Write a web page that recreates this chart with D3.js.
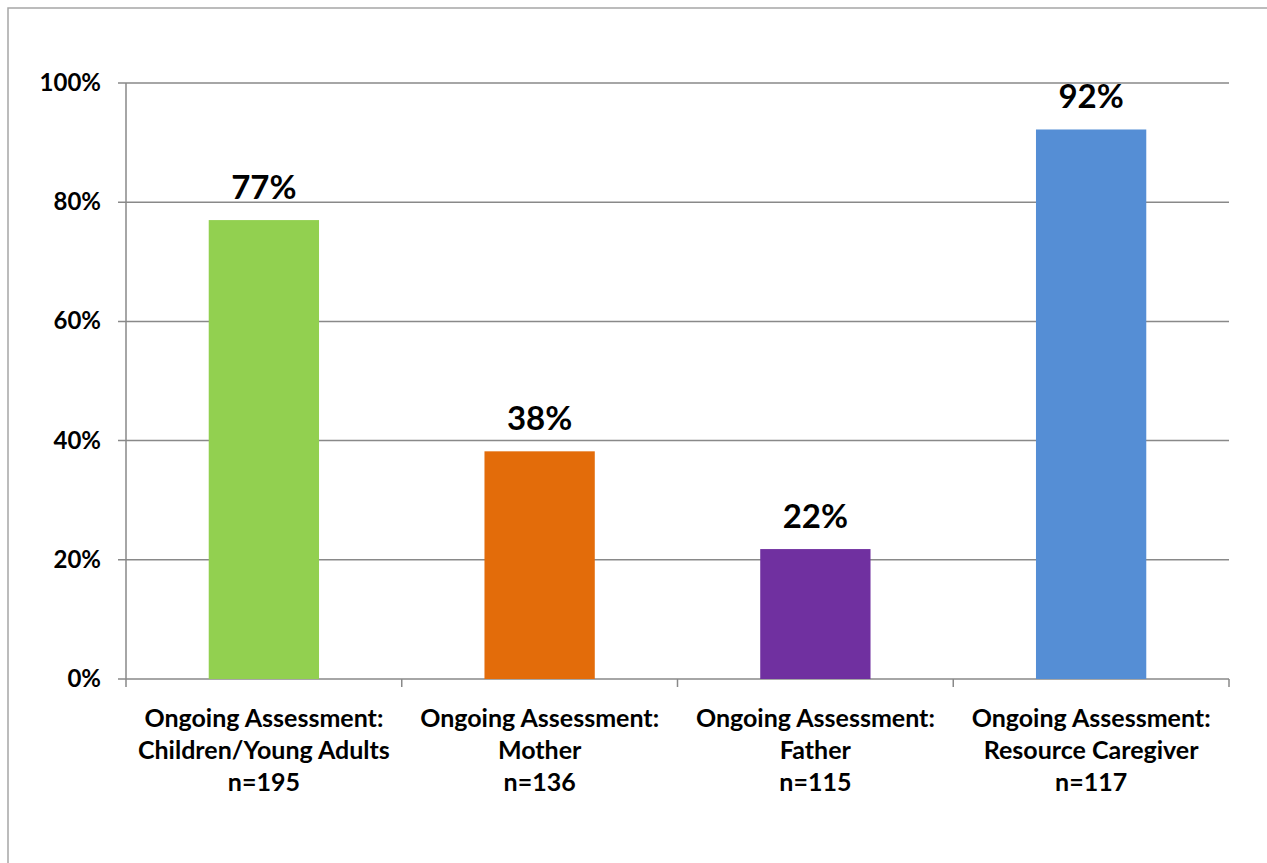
<!DOCTYPE html>
<html><head><meta charset="utf-8">
<script src="https://cdn.jsdelivr.net/npm/d3@7"></script>
<style>body{margin:0;background:#fff}svg{display:block}text{font-family:Lato,"Open Sans",sans-serif;font-weight:bold}</style>
</head><body>
<svg id="c" width="1267" height="863"></svg>
<script>
const categories = ["Ongoing Assessment:|Children/Young Adults|n=195","Ongoing Assessment:|Mother|n=136","Ongoing Assessment:|Father|n=115","Ongoing Assessment:|Resource Caregiver|n=117"];
const values = [77.0, 38.2, 21.8, 92.2];
const colors = ["#92D050","#E36C0A","#7030A0","#558ED5"];
const yTicks = [0,20,40,60,80,100];

const svg = d3.select("#c");
svg.append("rect").attr("x",8).attr("y",8).attr("width",1400).attr("height",1000)
  .attr("fill","none").attr("stroke","#a6a6a6").attr("stroke-width",1.5);

const L=126,R=1229,T=83,B=679;
const x = d3.scaleBand().domain(categories).range([L,R]).paddingInner(0.6).paddingOuter(0.3);
const xb = d3.scaleBand().domain(categories).range([L,R]);
const y = d3.scaleLinear().domain([0,100]).range([B,T]);

svg.append("g").selectAll("line").data(yTicks).join("line")
  .attr("x1",L-8).attr("x2",R).attr("y1",d=>y(d)).attr("y2",d=>y(d))
  .attr("stroke","#898989").attr("stroke-width",1.5);
svg.append("line").attr("x1",L).attr("x2",L).attr("y1",T).attr("y2",B).attr("stroke","#898989").attr("stroke-width",1.5);
const xt = categories.map(c=>xb(c)).concat([R]);
svg.append("g").selectAll("line").data(xt).join("line")
  .attr("x1",d=>d).attr("x2",d=>d).attr("y1",B).attr("y2",B+8)
  .attr("stroke","#898989").attr("stroke-width",1.5);
svg.append("g").selectAll("text").data(yTicks).join("text")
  .attr("x",101).attr("y",d=>y(d)+8).attr("text-anchor","end")
  .attr("font-size",24).text(d=>d+"%");
svg.append("g").selectAll("rect").data(values).join("rect")
  .attr("x",(d,i)=>x(categories[i])).attr("width",x.bandwidth())
  .attr("y",d=>y(d)).attr("height",d=>B-y(d)).attr("fill",(d,i)=>colors[i]);
svg.append("g").selectAll("text").data(values).join("text")
  .attr("x",(d,i)=>x(categories[i])+x.bandwidth()/2).attr("y",d=>y(d)-21)
  .attr("text-anchor","middle").attr("font-size",33).text(d=>Math.round(d)+"%");
const cg = svg.append("g").selectAll("text").data(categories).join("text")
  .attr("text-anchor","middle").attr("font-size",25);
cg.each(function(c){
  const t=d3.select(this);
  c.split("|").forEach((s,j)=>{
    t.append("tspan").attr("x",xb(c)+xb.bandwidth()/2).attr("y",727+j*32).text(s);
  });
});
</script>
</body></html>
